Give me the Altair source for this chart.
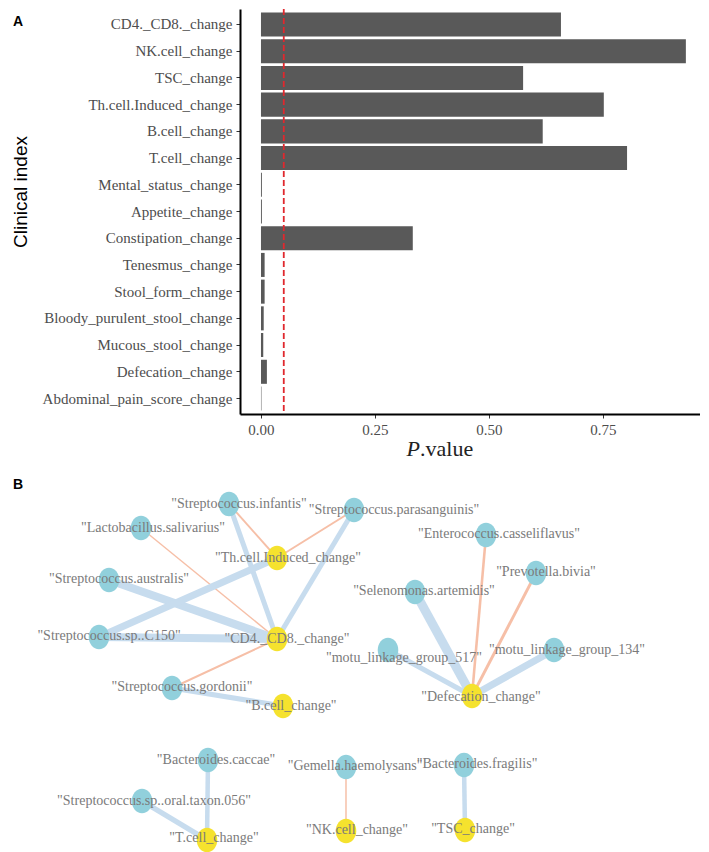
import altair as alt
import pandas as pd

# ---------------- Panel A data ----------------
indices = ["CD4._CD8._change", "NK.cell_change", "TSC_change", "Th.cell.Induced_change",
           "B.cell_change", "T.cell_change", "Mental_status_change", "Appetite_change",
           "Constipation_change", "Tenesmus_change", "Stool_form_change",
           "Bloody_purulent_stool_change", "Mucous_stool_change", "Defecation_change",
           "Abdominal_pain_score_change"]
p_values = [0.658, 0.932, 0.575, 0.752, 0.618, 0.803, 0.002, 0.002, 0.333,
            0.008, 0.008, 0.006, 0.005, 0.013, 0.001]
threshold = [0.05]
x_ticks = [0, 0.25, 0.5, 0.75]

# ---------------- Panel B data (network layout) ----------------
node_names = ["Streptococcus.infantis", "Lactobacillus.salivarius", "Streptococcus.parasanguinis",
              "Streptococcus.australis", "Streptococcus.sp..C150", "Streptococcus.gordonii",
              "Enterococcus.casseliflavus", "Prevotella.bivia", "Selenomonas.artemidis",
              "motu_linkage_group_517", "motu_linkage_group_134", "Bacteroides.caccae",
              "Streptococcus.sp..oral.taxon.056", "Gemella.haemolysans", "Bacteroides.fragilis",
              "Th.cell.Induced_change", "CD4._CD8._change", "B.cell_change", "Defecation_change",
              "T.cell_change", "NK.cell_change", "TSC_change"]
node_x = [230, 142, 355, 110, 100, 173, 487, 537, 416, 389, 555, 209, 143, 347, 465,
          278, 278, 284, 473, 208, 347, 466]
node_y = [503, 527, 509, 579, 636, 687, 534, 572, 591, 649, 649, 759, 800, 766, 764,
          557, 638, 705, 695, 839, 830, 829]
label_x = [240, 154, 395, 120, 110, 183, 500, 547, 425, 405, 568, 217, 155, 356, 478,
           289, 288, 292, 482, 215, 358, 474]
label_y = [503, 527, 509, 578, 635, 686, 533, 571, 590, 657, 649, 759, 800, 765, 763,
           557, 638, 705, 696, 837, 829, 828]
node_kind = ["microbe"] * 15 + ["clinical"] * 7

edge_from = ["Streptococcus.infantis", "Streptococcus.infantis", "Streptococcus.parasanguinis",
             "Streptococcus.parasanguinis", "Lactobacillus.salivarius", "Streptococcus.australis",
             "Streptococcus.sp..C150", "Streptococcus.sp..C150", "Streptococcus.gordonii",
             "Streptococcus.gordonii", "Selenomonas.artemidis", "Enterococcus.casseliflavus",
             "Prevotella.bivia", "motu_linkage_group_517", "motu_linkage_group_134",
             "Bacteroides.caccae", "Streptococcus.sp..oral.taxon.056", "Gemella.haemolysans",
             "Bacteroides.fragilis"]
edge_to = ["Th.cell.Induced_change", "CD4._CD8._change", "Th.cell.Induced_change",
           "CD4._CD8._change", "CD4._CD8._change", "CD4._CD8._change",
           "Th.cell.Induced_change", "CD4._CD8._change", "CD4._CD8._change",
           "B.cell_change", "Defecation_change", "Defecation_change",
           "Defecation_change", "Defecation_change", "Defecation_change",
           "T.cell_change", "T.cell_change", "NK.cell_change", "TSC_change"]
edge_weight = [0.36, 0.55, 0.36, 0.55, 0.33, 0.74, 0.68, 0.74, 0.36, 0.55,
               0.80, 0.40, 0.42, 0.55, 0.68, 0.52, 0.58, 0.33, 0.52]
edge_sign = ["positive", "negative", "positive", "negative", "positive", "negative",
             "negative", "negative", "positive", "negative", "negative", "positive",
             "positive", "negative", "negative", "negative", "negative", "positive",
             "negative"]

# ---------------- Build tables ----------------
bar_df = pd.DataFrame({"index": indices, "p": p_values})
thr_df = pd.DataFrame({"p": threshold})

nodes_df = pd.DataFrame({"name": node_names, "x": node_x, "y": node_y,
                         "lx": label_x, "ly": label_y, "kind": node_kind})
nodes_df["label"] = '"' + nodes_df["name"] + '"'
pos = nodes_df.set_index("name")
edges_df = pd.DataFrame({"src": edge_from, "dst": edge_to, "w": edge_weight, "sign": edge_sign})
edges_df["x1"] = edges_df["src"].map(pos["x"])
edges_df["y1"] = edges_df["src"].map(pos["y"])
edges_df["x2"] = edges_df["dst"].map(pos["x"])
edges_df["y2"] = edges_df["dst"].map(pos["y"])

W = 460
HA = 405
HB = 375
LEFT = 241   # page x of the plot area's left edge

serif = "Liberation Serif"
sans = "Liberation Sans"

# ---------------- Panel A ----------------
xA = alt.Scale(domain=[-0.046, 0.963], nice=False)
bars = alt.Chart(bar_df).mark_bar(color="#595959").encode(
    x=alt.X("p:Q", scale=xA,
            axis=alt.Axis(values=x_ticks, format=".2f", title=None)),
    y=alt.Y("index:N", sort=indices,
            scale=alt.Scale(paddingInner=0.1, paddingOuter=0.13),
            axis=alt.Axis(title=None, labelLimit=400)),
)
thr = alt.Chart(thr_df).mark_rule(color="#e0282e", strokeDash=[6, 3], strokeWidth=1.8).encode(
    x=alt.X("p:Q", scale=xA)
)
ytitle = alt.Chart(pd.DataFrame({"t": ["Clinical index"]})).mark_text(
    font=sans, fontSize=19, angle=270, color="#000000"
).encode(text="t:N", x=alt.value(-219), y=alt.value(183))
xtitle_p = alt.Chart(pd.DataFrame({"t": ["P"]})).mark_text(
    font=serif, fontSize=22, fontStyle="italic", color="#222222", align="right"
).encode(text="t:N", x=alt.value(180), y=alt.value(440))
xtitle_rest = alt.Chart(pd.DataFrame({"t": [".value"]})).mark_text(
    font=serif, fontSize=22, color="#222222", align="left"
).encode(text="t:N", x=alt.value(180), y=alt.value(440))
labA = alt.Chart(pd.DataFrame({"t": ["A"]})).mark_text(
    font=sans, fontWeight="bold", fontSize=14, align="left"
).encode(text="t:N", x=alt.value(-227), y=alt.value(13))

panelA = alt.layer(bars, thr, ytitle, xtitle_p, xtitle_rest, labA).properties(width=W, height=HA)

# ---------------- Panel B ----------------
xB = alt.Scale(domain=[LEFT, LEFT + W], nice=False, zero=False)
yB = alt.Scale(domain=[470, 470 + HB], nice=False, zero=False, reverse=True)

edges = alt.Chart(edges_df).mark_rule().encode(
    x=alt.X("x1:Q", scale=xB, axis=None),
    y=alt.Y("y1:Q", scale=yB, axis=None),
    x2="x2:Q",
    y2="y2:Q",
    stroke=alt.Stroke("sign:N", scale=alt.Scale(domain=["negative", "positive"],
                                                range=["#C7DCEE", "#F6BFA7"]), legend=None),
    strokeWidth=alt.StrokeWidth("w:Q", scale=alt.Scale(domain=[0.3, 0.8], range=[1, 9]),
                                legend=None),
)
ellipse = "M-0.84,0A0.84,1,0,1,0,0.84,0A0.84,1,0,1,0,-0.84,0Z"
nodes = alt.Chart(nodes_df).mark_point(shape=ellipse, filled=True, opacity=1, size=600).encode(
    x=alt.X("x:Q", scale=xB, axis=None),
    y=alt.Y("y:Q", scale=yB, axis=None),
    fill=alt.Fill("kind:N", scale=alt.Scale(domain=["microbe", "clinical"],
                                            range=["#91D0DC", "#F5E22E"]), legend=None),
)
labels = alt.Chart(nodes_df).mark_text(font=serif, fontSize=14, color="#7a7a7a").encode(
    x=alt.X("lx:Q", scale=xB, axis=None),
    y=alt.Y("ly:Q", scale=yB, axis=None),
    text="label:N",
)
labB = alt.Chart(pd.DataFrame({"t": ["B"]})).mark_text(
    font=sans, fontWeight="bold", fontSize=14, align="left"
).encode(text="t:N", x=alt.value(-227), y=alt.value(14))

panelB = alt.layer(edges, nodes, labels, labB).properties(width=W, height=HB)

chart = alt.vconcat(
    panelA, panelB, spacing=11, background="white",
    padding={"left": 4, "top": 0, "right": 0, "bottom": 0}
).configure_view(
    stroke=None
).configure_axis(
    grid=False, domainColor="#000000", domainWidth=2, tickColor="#333333", tickSize=4,
    labelFont=serif, labelFontSize=15, labelColor="#4d4d4d", labelPadding=4,
)

chart.save("out.html", embed_options={"renderer": "svg", "actions": False})
